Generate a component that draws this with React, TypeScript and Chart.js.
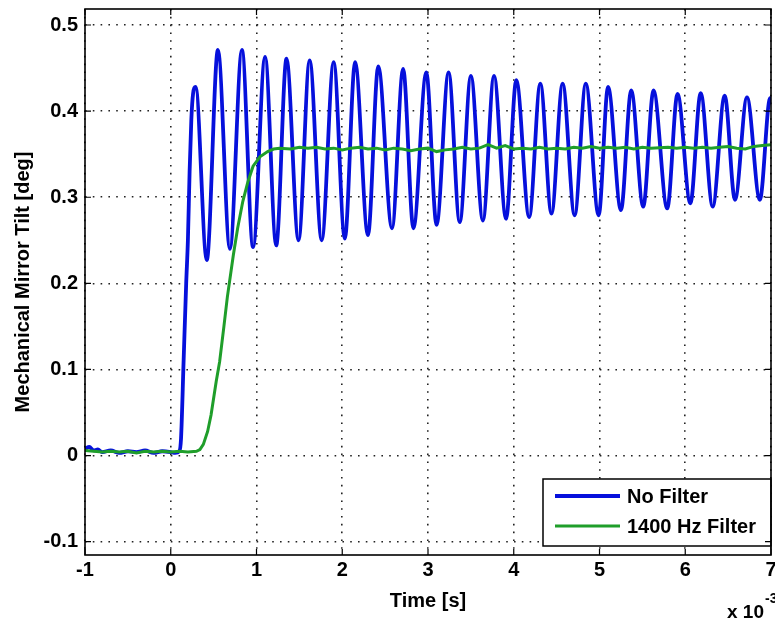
import { useEffect, useRef } from "react";
import { Chart, registerables } from "chart.js";

Chart.register(...registerables);

// Axis ticks (time in ms, i.e. x 10^-3 s)
const xTickValues = [-1, 0, 1, 2, 3, 4, 5, 6, 7];
const xTickLabels = ["-1", "0", "1", "2", "3", "4", "5", "6", "7"];
const yTickValues = [-0.1, 0, 0.1, 0.2, 0.3, 0.4, 0.5];
const yTickLabels = ["-0.1", "0", "0.1", "0.2", "0.3", "0.4", "0.5"];

const seriesLabels = ["No Filter", "1400 Hz Filter"];
const seriesColors = ["#0610dc", "#1f9e2a"];

// "No Filter" response: baseline, rise, then extrema of the ringing
const noFilterTime = [
  -1, -0.95, -0.9, -0.85, -0.8, -0.7, -0.6, -0.5, -0.4, -0.3, -0.2, -0.1, 0, 0.05, 0.1,
  0.12, 0.15, 0.18, 0.2, 0.22, 0.24, 0.26, 0.29,
  0.42, 0.55, 0.69, 0.83, 0.96, 1.1, 1.23, 1.35, 1.49, 1.62,
  1.76, 1.9, 2.03, 2.15, 2.3, 2.42, 2.58, 2.71, 2.83, 2.98,
  3.1, 3.24, 3.37, 3.5, 3.64, 3.77, 3.91, 4.03, 4.18, 4.31,
  4.44, 4.57, 4.71, 4.84, 4.99, 5.1, 5.25, 5.37, 5.51, 5.63,
  5.79, 5.91, 6.06, 6.18, 6.32, 6.46, 6.58, 6.72, 6.87, 6.99,
  7.12,
];
const noFilterTilt = [
  0.008, 0.01, 0.006, 0.007, 0.004, 0.006, 0.003, 0.005, 0.004, 0.006, 0.003, 0.005, 0.004, 0.003, 0.005,
  0.02, 0.11, 0.2, 0.25, 0.33, 0.39, 0.42, 0.428,
  0.227, 0.471, 0.24, 0.471, 0.242, 0.463, 0.244, 0.461, 0.25, 0.459,
  0.25, 0.457, 0.252, 0.457, 0.256, 0.452, 0.264, 0.449, 0.264, 0.445,
  0.268, 0.445, 0.271, 0.441, 0.273, 0.441, 0.275, 0.436, 0.277, 0.432,
  0.281, 0.432, 0.279, 0.432, 0.279, 0.428, 0.285, 0.424, 0.289, 0.424,
  0.287, 0.42, 0.293, 0.421, 0.289, 0.418, 0.297, 0.416, 0.297, 0.415,
  0.298,
];

// "1400 Hz Filter" response
const filterTime = [
  -1, -0.9, -0.8, -0.7, -0.6, -0.5, -0.4, -0.3, -0.2, -0.1, 0, 0.1, 0.2, 0.3, 0.34,
  0.38, 0.43, 0.47, 0.53, 0.57, 0.62, 0.66, 0.73, 0.78, 0.84, 0.9, 0.96, 1.04, 1.13, 1.2, 1.27,
  1.4, 1.5, 1.6, 1.7, 1.8, 1.9, 2.0, 2.1, 2.2, 2.3,
  2.4, 2.5, 2.6, 2.7, 2.8, 2.9, 3.0, 3.1, 3.2, 3.3,
  3.4, 3.5, 3.6, 3.7, 3.8, 3.9, 4.0, 4.1, 4.2, 4.3,
  4.4, 4.5, 4.6, 4.7, 4.8, 4.9, 5.0, 5.1, 5.2, 5.3,
  5.4, 5.5, 5.6, 5.8, 5.9, 6.0, 6.1, 6.2, 6.3, 6.4,
  6.5, 6.6, 6.7, 6.8, 6.9, 7.0, 7.1,
];
const filterTilt = [
  0.006, 0.005, 0.004, 0.005, 0.004, 0.005, 0.003, 0.005, 0.004, 0.005, 0.004, 0.005, 0.004, 0.005, 0.007,
  0.013, 0.028, 0.047, 0.086, 0.109, 0.15, 0.184, 0.233, 0.264, 0.295, 0.318, 0.336, 0.347, 0.353, 0.356, 0.357,
  0.356, 0.358, 0.357, 0.358, 0.356, 0.357, 0.355, 0.357, 0.358, 0.356,
  0.357, 0.355, 0.357, 0.356, 0.354, 0.356, 0.357, 0.353, 0.355, 0.356,
  0.358, 0.356, 0.357, 0.361, 0.357, 0.36, 0.356, 0.357, 0.356, 0.358,
  0.356, 0.357, 0.356, 0.358, 0.357, 0.359, 0.357, 0.358, 0.357, 0.358,
  0.356, 0.358, 0.357, 0.358, 0.357, 0.358, 0.357, 0.358, 0.357, 0.358,
  0.359, 0.357, 0.356, 0.359, 0.36, 0.361, 0.361,
];

const FONT = "'Liberation Sans', Arial, Helvetica, sans-serif";

const matlabPlugin = {
  id: "matlabFrame",
  afterDatasetsDraw(chart: any) {
    const { ctx, chartArea, scales } = chart;
    const { left, right, top, bottom } = chartArea;
    ctx.save();

    // Legend box (inside axes, south-east)
    const boxW = 228;
    const boxH = 67;
    const bx = right - boxW;
    const by = bottom - 9 - boxH;
    ctx.fillStyle = "#ffffff";
    ctx.fillRect(bx, by, boxW, boxH);
    ctx.strokeStyle = "#000";
    ctx.lineWidth = 1.5;
    ctx.strokeRect(bx, by, boxW, boxH);
    chart.data.datasets.forEach((ds: any, i: number) => {
      const ry = by + 17 + i * 30;
      ctx.strokeStyle = ds.borderColor;
      ctx.lineWidth = ds.borderWidth;
      ctx.beginPath();
      ctx.moveTo(bx + 12, ry);
      ctx.lineTo(bx + 77, ry);
      ctx.stroke();
      ctx.fillStyle = "#000";
      ctx.font = `bold 20px ${FONT}`;
      ctx.textAlign = "left";
      ctx.textBaseline = "middle";
      ctx.fillText(ds.label, bx + 84, ry + 1);
    });

    // Axes box
    ctx.strokeStyle = "#000";
    ctx.lineWidth = 1.6;
    ctx.strokeRect(left, top, right - left, bottom - top);

    // Inward tick marks on all four sides
    const tl = 6;
    ctx.lineWidth = 1.2;
    ctx.beginPath();
    xTickValues.forEach((v) => {
      const px = scales.x.getPixelForValue(v);
      ctx.moveTo(px, bottom);
      ctx.lineTo(px, bottom - tl);
      ctx.moveTo(px, top);
      ctx.lineTo(px, top + tl);
    });
    yTickValues.forEach((v) => {
      const py = scales.y.getPixelForValue(v);
      ctx.moveTo(left, py);
      ctx.lineTo(left + tl, py);
      ctx.moveTo(right, py);
      ctx.lineTo(right - tl, py);
    });
    ctx.stroke();

    // Exponent label "x 10^-3"
    ctx.fillStyle = "#000";
    ctx.textAlign = "left";
    ctx.textBaseline = "alphabetic";
    ctx.font = `bold 19px ${FONT}`;
    ctx.fillText("x 10", 727, 618);
    ctx.font = `bold 14px ${FONT}`;
    ctx.fillText("-3", 765, 603);

    ctx.restore();
  },
};

const noPadding = (scale: any) => {
  scale.paddingTop = 0;
  scale.paddingBottom = 0;
  scale.paddingLeft = 0;
  scale.paddingRight = 0;
};

export default function App() {
  const canvasRef = useRef<HTMLCanvasElement | null>(null);

  useEffect(() => {
    const canvas = canvasRef.current;
    if (!canvas) return;

    const noFilterData = noFilterTime.map((t, i) => ({ x: t, y: noFilterTilt[i] }));
    const filterData = filterTime.map((t, i) => ({ x: t, y: filterTilt[i] }));

    const chart = new Chart(canvas, {
      type: "line",
      data: {
        datasets: [
          {
            label: seriesLabels[0],
            data: noFilterData,
            borderColor: seriesColors[0],
            borderWidth: 3.8,
            pointRadius: 0,
            cubicInterpolationMode: "monotone",
            order: 1,
          },
          {
            label: seriesLabels[1],
            data: filterData,
            borderColor: seriesColors[1],
            borderWidth: 3,
            pointRadius: 0,
            tension: 0,
            order: 0,
          },
        ],
      },
      options: {
        animation: false,
        responsive: false,
        devicePixelRatio: 1,
        parsing: false,
        layout: {
          autoPadding: false,
          padding: { top: 9, right: 4, left: 0, bottom: 0 },
        },
        plugins: {
          legend: { display: false },
          tooltip: { enabled: false },
          title: { display: false },
        },
        scales: {
          x: {
            type: "linear",
            min: -1,
            max: 7,
            afterBuildTicks: (scale: any) => {
              scale.ticks = xTickValues.map((v) => ({ value: v }));
            },
            afterFit: (scale: any) => {
              scale.height = 66;
              noPadding(scale);
            },
            ticks: {
              autoSkip: false,
              maxRotation: 0,
              padding: 3,
              color: "#000",
              font: { family: FONT, size: 20, weight: "bold" },
              callback: (_v: any, i: number) => xTickLabels[i],
            },
            grid: {
              drawTicks: false,
              color: "#222",
              lineWidth: 1.6,
            },
            border: { display: false, dash: [1.6, 6.2] },
            title: {
              display: true,
              text: "Time [s]",
              color: "#000",
              font: { family: FONT, size: 20, weight: "bold" },
              padding: { top: 0, bottom: 8 },
            },
          },
          y: {
            type: "linear",
            min: -0.1155,
            max: 0.5186,
            afterBuildTicks: (scale: any) => {
              scale.ticks = yTickValues.map((v) => ({ value: v }));
            },
            afterFit: (scale: any) => {
              scale.width = 85;
              noPadding(scale);
            },
            ticks: {
              autoSkip: false,
              padding: 7,
              color: "#000",
              font: { family: FONT, size: 20, weight: "bold" },
              callback: (_v: any, i: number) => yTickLabels[i],
            },
            grid: {
              drawTicks: false,
              color: "#222",
              lineWidth: 1.6,
            },
            border: { display: false, dash: [1.6, 6.2] },
            title: {
              display: true,
              text: "Mechanical Mirror Tilt [deg]",
              color: "#000",
              font: { family: FONT, size: 20, weight: "bold" },
              padding: { top: 11, bottom: 0 },
            },
          },
        },
      },
      plugins: [matlabPlugin],
    } as any);

    return () => {
      chart.destroy();
    };
  }, []);

  return (
    <div
      style={{
        position: "absolute",
        left: 0,
        top: 0,
        width: 775,
        height: 621,
        background: "#ffffff",
      }}
    >
      <canvas ref={canvasRef} width={775} height={621} style={{ display: "block" }} />
    </div>
  );
}
